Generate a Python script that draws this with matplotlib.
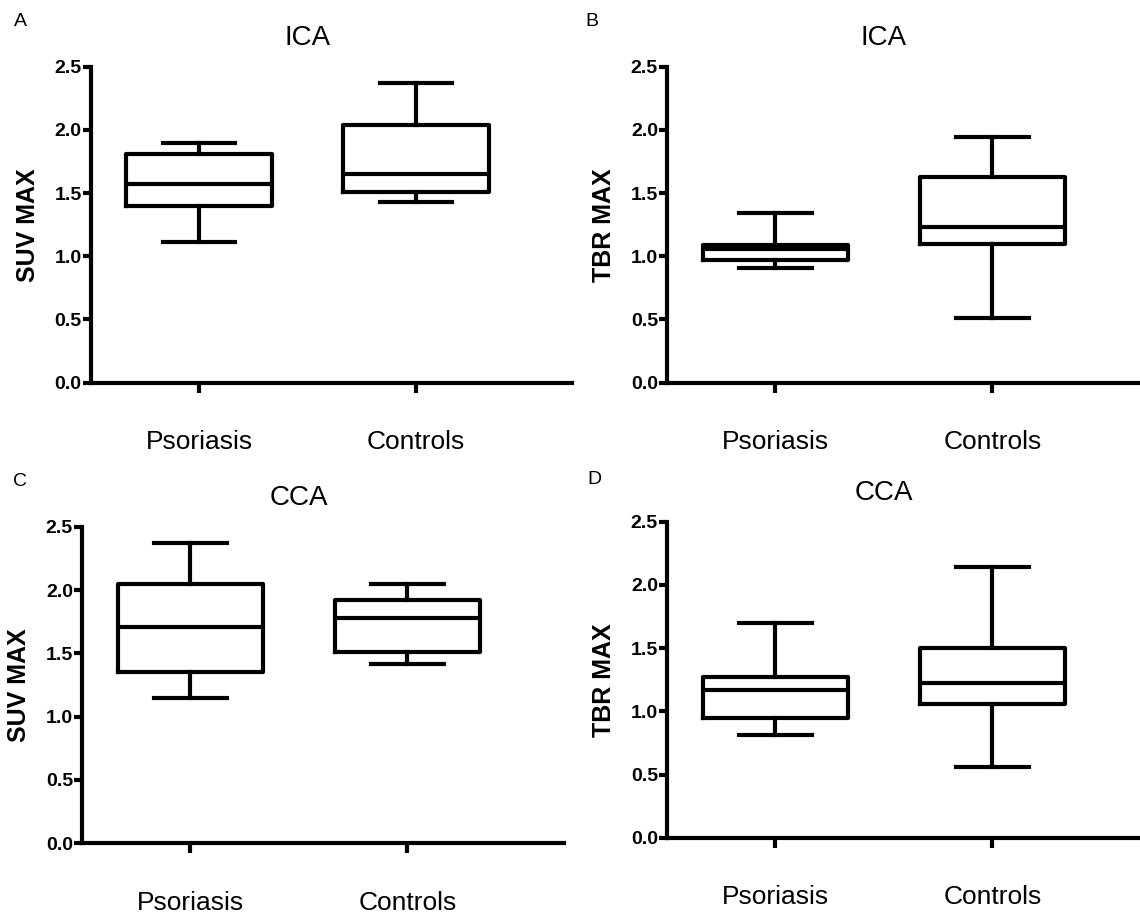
import numpy as np
import matplotlib
matplotlib.use('Agg')
from matplotlib import pyplot as plt
import matplotlib.transforms as mtransforms

plt.rcParams['font.family'] = ['Liberation Sans', 'DejaVu Sans']

groups = ['Psoriasis', 'Controls']
panel_letters = ['A', 'B', 'C', 'D']
titles = ['ICA', 'ICA', 'CCA', 'CCA']
ylabels = ['SUV MAX', 'TBR MAX', 'SUV MAX', 'TBR MAX']

# five-number summaries per panel: [Psoriasis, Controls]
whis_lo = [[1.11, 1.43], [0.905, 0.515], [1.15, 1.415], [0.815, 0.56]]
q1 = [[1.40, 1.505], [0.97, 1.095], [1.355, 1.51], [0.945, 1.055]]
median = [[1.575, 1.65], [1.055, 1.235], [1.71, 1.78], [1.17, 1.22]]
q3 = [[1.81, 2.04], [1.09, 1.63], [2.05, 1.925], [1.275, 1.50]]
whis_hi = [[1.895, 2.37], [1.345, 1.945], [2.37, 2.045], [1.695, 2.14]]

W, H = 1140, 915
fig = plt.figure(figsize=(W / 100, H / 100), dpi=100)

# axes boxes in pixels: left, top (2.5), bottom (0.0)
ax_px = [(90.7, 66.7, 382.7), (667, 66.7, 382.7),
         (82, 526.7, 843.3), (667, 521.7, 837.7)]
ax_w = 481.5
letter_px = [(20, 21), (592, 21), (20, 482), (594, 480)]

lw = 3.0
for i in range(4):
    left, top, bot = ax_px[i]
    ax = fig.add_axes([left / W, 1 - bot / H, ax_w / W, (bot - top) / H])
    stats = []
    for j, g in enumerate(groups):
        stats.append(dict(label=g, whislo=whis_lo[i][j], q1=q1[i][j], med=median[i][j],
                          q3=q3[i][j], whishi=whis_hi[i][j], fliers=[]))
    style = dict(color='black', linewidth=lw)
    ax.bxp(stats, positions=[1, 2], widths=0.67, showfliers=False,
           boxprops=style, medianprops=style, whiskerprops=style, capprops=style,
           manage_ticks=False)
    ax.set_xlim(0.5, 2.72)
    ax.set_ylim(0, 2.5)
    ax.set_xticks([1, 2])
    ax.set_xticklabels(groups, fontsize=19)
    ax.set_yticks(np.arange(0, 2.51, 0.5))
    ax.set_yticklabels([f'{v:.1f}' for v in np.arange(0, 2.51, 0.5)],
                       fontsize=14, fontweight='bold')
    ax.tick_params(axis='y', length=6, width=lw, pad=0.5)
    ax.tick_params(axis='x', length=7.5, width=lw, pad=26.5)
    for s in ['top', 'right']:
        ax.spines[s].set_visible(False)
    for s in ['left', 'bottom']:
        ax.spines[s].set_linewidth(lw)
    ax.set_ylabel(ylabels[i], fontsize=18, fontweight='bold', va='center')
    ax.yaxis.set_label_coords(-0.13, 0.5)
    trans = mtransforms.blended_transform_factory(ax.transData, ax.transAxes)
    ax.text(1.5, 1.09, titles[i], transform=trans, ha='center', va='center', fontsize=20)
    lx, ly = letter_px[i]
    fig.text(lx / W, 1 - ly / H, panel_letters[i], ha='center', va='center', fontsize=14)

plt.savefig('out.png', dpi=100)
